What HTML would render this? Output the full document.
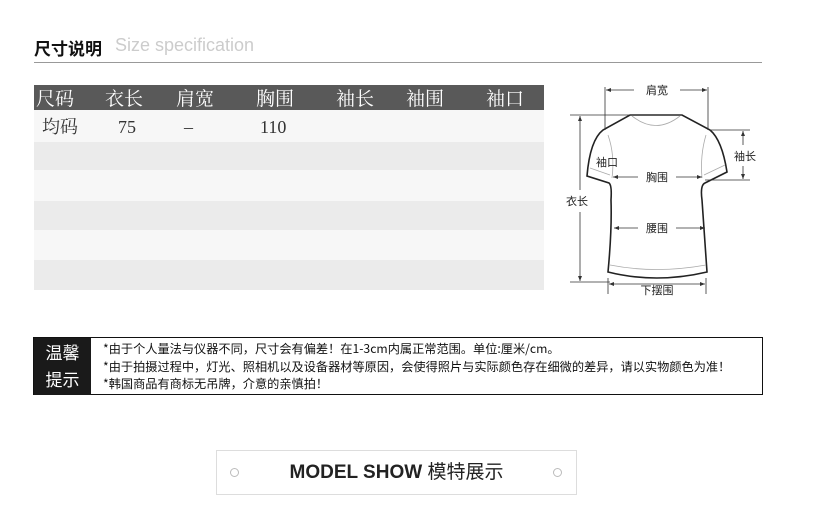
<!DOCTYPE html>
<html><head><meta charset="utf-8"><style>
body{margin:0;width:814px;height:506px;background:#fff;position:relative;overflow:hidden;font-family:"Liberation Sans","Noto Sans CJK SC",sans-serif}
.a{position:absolute}
.hd span{position:absolute;top:0;color:#fff;font-size:19px;font-family:"Noto Serif CJK SC","Noto Sans CJK SC",serif;line-height:26px}
.r1 span{position:absolute;top:0;color:#333;font-size:18px;font-family:"Liberation Serif","Noto Serif CJK SC",serif;line-height:34px}
.n{font-family:"WenQuanYi Zen Hei","Noto Sans CJK SC",sans-serif;font-size:12.2px;color:#111;line-height:17.5px;white-space:nowrap}
</style></head><body>
<div class="a" style="left:34px;top:35px;font-size:17px;font-weight:bold;color:#111;font-family:'Noto Sans CJK SC',sans-serif">尺寸说明</div>
<div class="a" style="left:115px;top:35px;font-size:18px;color:#ccc;">Size specification</div>
<div class="a" style="left:34px;top:62px;width:728px;height:1px;background:#999"></div>

<div class="a hd" style="left:34px;top:85px;width:510px;height:25px;background:#595959">
<span style="left:2px">尺码</span><span style="left:71px">衣长</span><span style="left:142px">肩宽</span><span style="left:222px">胸围</span><span style="left:302px">袖长</span><span style="left:372px">袖围</span><span style="left:452px">袖口</span>
</div>
<div class="a r1" style="left:34px;top:110px;width:510px;height:32px;background:#f7f7f7">
<span style="left:8px">均码</span><span style="left:84px">75</span><span style="left:150px">–</span><span style="left:226px">110</span>
</div>
<div class="a" style="left:34px;top:142px;width:510px;height:28px;background:#ebebeb"></div>
<div class="a" style="left:34px;top:170px;width:510px;height:31px;background:#f7f7f7"></div>
<div class="a" style="left:34px;top:201px;width:510px;height:29px;background:#ebebeb"></div>
<div class="a" style="left:34px;top:230px;width:510px;height:30px;background:#f7f7f7"></div>
<div class="a" style="left:34px;top:260px;width:510px;height:30px;background:#ebebeb"></div>

<svg class="a" style="left:0;top:0" width="814" height="506">
<g fill="none" stroke="#222" stroke-width="1.6">
<path d="M630,115 L682,115 L710,130 Q722,140 727,172 L705,183 Q700,185 702,200 Q704,230 707,272 Q656,284 608,272 Q612,230 611,200 Q612,185 609,183 L587,176 Q590,140 603,130 Z"/>
</g>
<g fill="none" stroke="#aaa" stroke-width="0.8">
<path d="M632,116 Q656,135 680,116"/><path d="M590,168 L610,175"/><path d="M704,175 L725,165"/><path d="M610,265 Q656,274 706,265"/>
<path d="M608,135 Q615,155 612,178"/><path d="M706,135 Q700,155 702,178"/>
</g>
<g stroke="#333" stroke-width="0.8" fill="none">
<path d="M605,87V130M708,87V130"/>
<path d="M606,90H634M680,90H707"/>
<path d="M570,115H682M570,282H610"/>
<path d="M580,116V190M580,212V281"/>
<path d="M710,130H750M705,180H750M743,131V145M743,166V179"/>
<path d="M613,177H638M676,177H702M614,228H638M676,228H705"/>
<path d="M608,278V294M706,278V294M609,284H705"/>
</g>
<g fill="#333">
<path d="M606,90l5,-2v4zM707,90l-5,-2v4zM580,116l-2,5h4zM580,281l-2,-5h4zM743,131l-2,5h4zM743,179l-2,-5h4zM613,177l5,-2v4zM702,177l-5,-2v4zM614,228l5,-2v4zM705,228l-5,-2v4zM609,284l5,-2v4zM705,284l-5,-2v4z"/>
</g>
<g font-family="WenQuanYi Zen Hei,Noto Sans CJK SC,sans-serif" font-size="11" fill="#222" text-anchor="middle">
<text x="657" y="94">肩宽</text><text x="745" y="160">袖长</text><text x="577" y="205">衣长</text><text x="607" y="166">袖口</text><text x="657" y="181">胸围</text><text x="657" y="232">腰围</text><text x="657" y="294">下摆围</text>
</g>
</svg>

<div class="a" style="left:33px;top:337px;width:728px;height:56px;border:1px solid #111"></div>
<div class="a" style="left:34px;top:338px;width:57px;height:57px;background:#1a1a1a;color:#fff;font-size:17px;line-height:27px;text-align:center;font-family:'Noto Sans CJK SC',sans-serif">温馨<br>提示</div>
<div class="a n" style="left:103px;top:340px">*由于个人量法与仪器不同，尺寸会有偏差！在1-3cm内属正常范围。单位:厘米/cm。<br>*由于拍摄过程中，灯光、照相机以及设备器材等原因，会使得照片与实际颜色存在细微的差异，请以实物颜色为准！<br>*韩国商品有商标无吊牌，介意的亲慎拍！</div>

<div class="a" style="left:216px;top:450px;width:359px;height:43px;border:1px solid #ddd"></div>
<div class="a" style="left:230px;top:468px;width:7px;height:7px;border:1px solid #bbb;border-radius:50%"></div>
<div class="a" style="left:553px;top:468px;width:7px;height:7px;border:1px solid #bbb;border-radius:50%"></div>
<div class="a" style="left:216px;top:457px;width:361px;text-align:center;font-size:19px;color:#222;"><b>MODEL SHOW</b> <span style="font-family:'Noto Sans CJK SC',sans-serif">模特展示</span></div>
</body></html>
